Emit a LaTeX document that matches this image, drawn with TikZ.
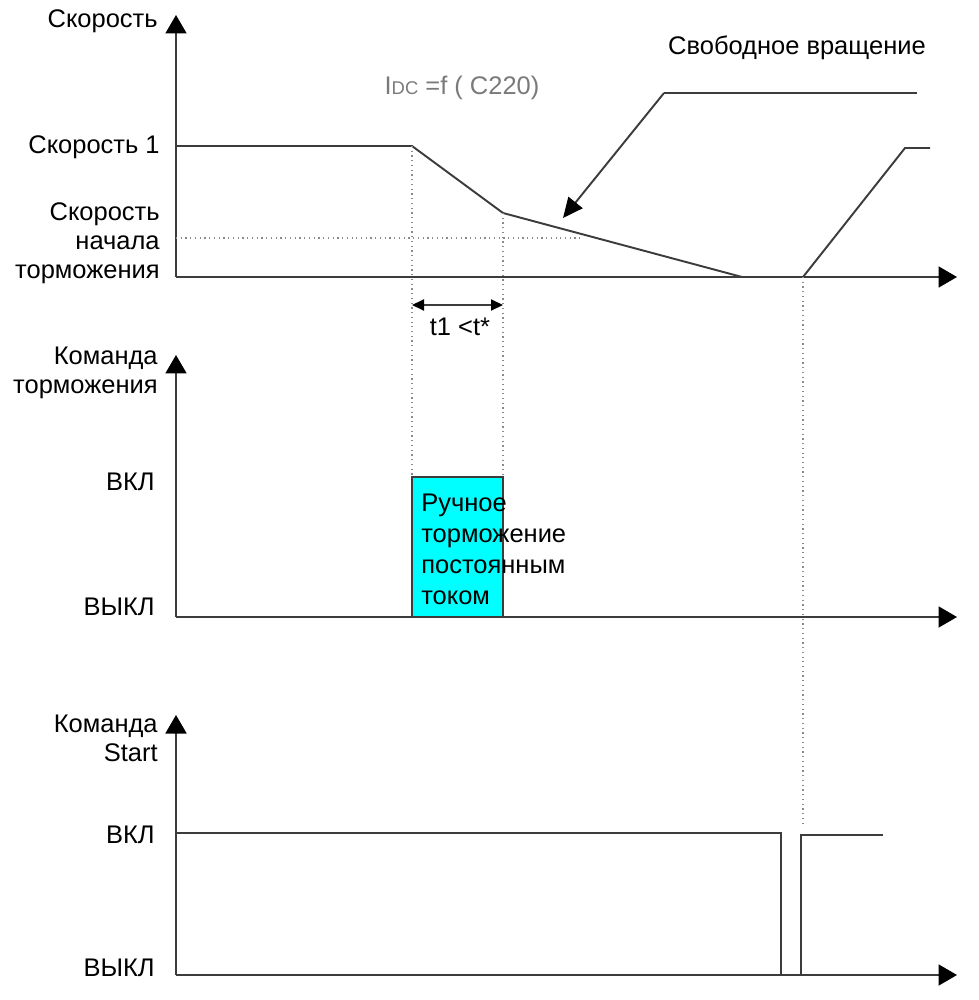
\documentclass[tikz,border=0pt]{standalone}
\usepackage{fontspec}
\setmainfont{Liberation Sans}
\usetikzlibrary{arrows.meta, positioning}
\definecolor{trazo}{HTML}{3C3C3C}
\definecolor{puntos}{HTML}{8A8A8A}
\definecolor{grisidc}{HTML}{7A7A7A}
\definecolor{cian}{HTML}{00FFFF}
\tikzset{
  eje/.style={line width=1.1pt, color=trazo, -{Triangle[length=0.37cm, width=0.42cm, color=black]}},
  curva/.style={line width=1.1pt, color=trazo},
  guia/.style={dotted, color=puntos, line width=0.7pt},
  etiq/.style={font=\fontsize{14.5}{16.5}\selectfont, inner sep=0pt, align=right, anchor=east},
  texto/.style={font=\fontsize{14.5}{16.5}\selectfont, inner sep=0pt},
  caja/.style={draw=trazo, line width=1pt, fill=cian},
  flecha/.style={line width=1.1pt, color=trazo, -{Triangle[length=0.4cm, width=0.36cm, color=black]}},
  cota/.style={line width=1.1pt, color=trazo, {Triangle[length=0.24cm, width=0.22cm, color=black]}-{Triangle[length=0.24cm, width=0.22cm, color=black]}}
}

\begin{document}
\begin{tikzpicture}[x=0.02cm, y=-0.02cm]
  \useasboundingbox (0,0) rectangle (978,1000);

  % velocidad
  \coordinate (o1) at (176,277);
  \coordinate (v1a) at (412,146);
  \coordinate (v1b) at (503,213);
  \coordinate (v0) at (742,277);
  \coordinate (arr) at (803,277);
  \draw [eje] (o1) -- (176,15);
  \draw [eje] (o1) -- (957,277);
  \draw [curva] (176,146) -- (v1a) -- (v1b) -- (v0);
  \draw [curva] (arr) -- (905,148) -- (930,148);
  \draw [guia] (176,238) -- (582,238);
  \node (vel) [etiq] at (158,21) {Скорость};
  \node (vel1) [etiq] at (160,147) {Скорость 1};
  \node (velfr) [etiq] at (160,243) {Скорость\\начала\\торможения};
  \node (idc) [texto, text=grisidc] at (462,88) {I{\fontsize{10.5}{12}\selectfont DC} =f ( C220)};
  \node (libre) [texto] at (797,48) {Свободное вращение};
  \coordinate (codo) at (664,93);
  \draw [curva] (917,93) -- (codo);
  \draw [flecha] (codo) -- (563,218);

  % orden de frenado
  \coordinate (o2) at (176,617);
  \draw [eje] (o2) -- (176,355);
  \draw [eje] (o2) -- (957,617);
  \draw [caja] (412,477) rectangle (503,617);
  \draw [guia] (v1a) -- (412,477);
  \draw [guia] (v1b) -- (503,477);
  \draw [cota] (412,305) -- (503,305);
  \node (t1) [texto] at (460,327) {t1 <t*};
  \node (pulso) [texto, align=left, anchor=north west, font=\fontsize{14.5}{17.5}\selectfont] at (421,494) {Ручное\\торможение\\постоянным\\током};
  \node (freno) [etiq] at (158,373) {Команда\\торможения};
  \node (on2) [etiq] at (155,482) {ВКЛ};
  \node (off2) [etiq] at (155,607) {ВЫКЛ};

  % orden de arranque
  \coordinate (o3) at (176,975);
  \draw [eje] (o3) -- (176,715);
  \draw [eje] (o3) -- (957,975);
  \draw [curva] (176,833) -- (781,833) -- (781,975);
  \draw [curva] (801,975) -- (801,835) -- (883,835);
  \draw [guia] (arr) -- (803,825);
  \node (start) [etiq] at (158,738) {Команда\\Start};
  \node (on3) [etiq] at (155,835) {ВКЛ};
  \node (off3) [etiq] at (155,968) {ВЫКЛ};
\end{tikzpicture}
\end{document}
